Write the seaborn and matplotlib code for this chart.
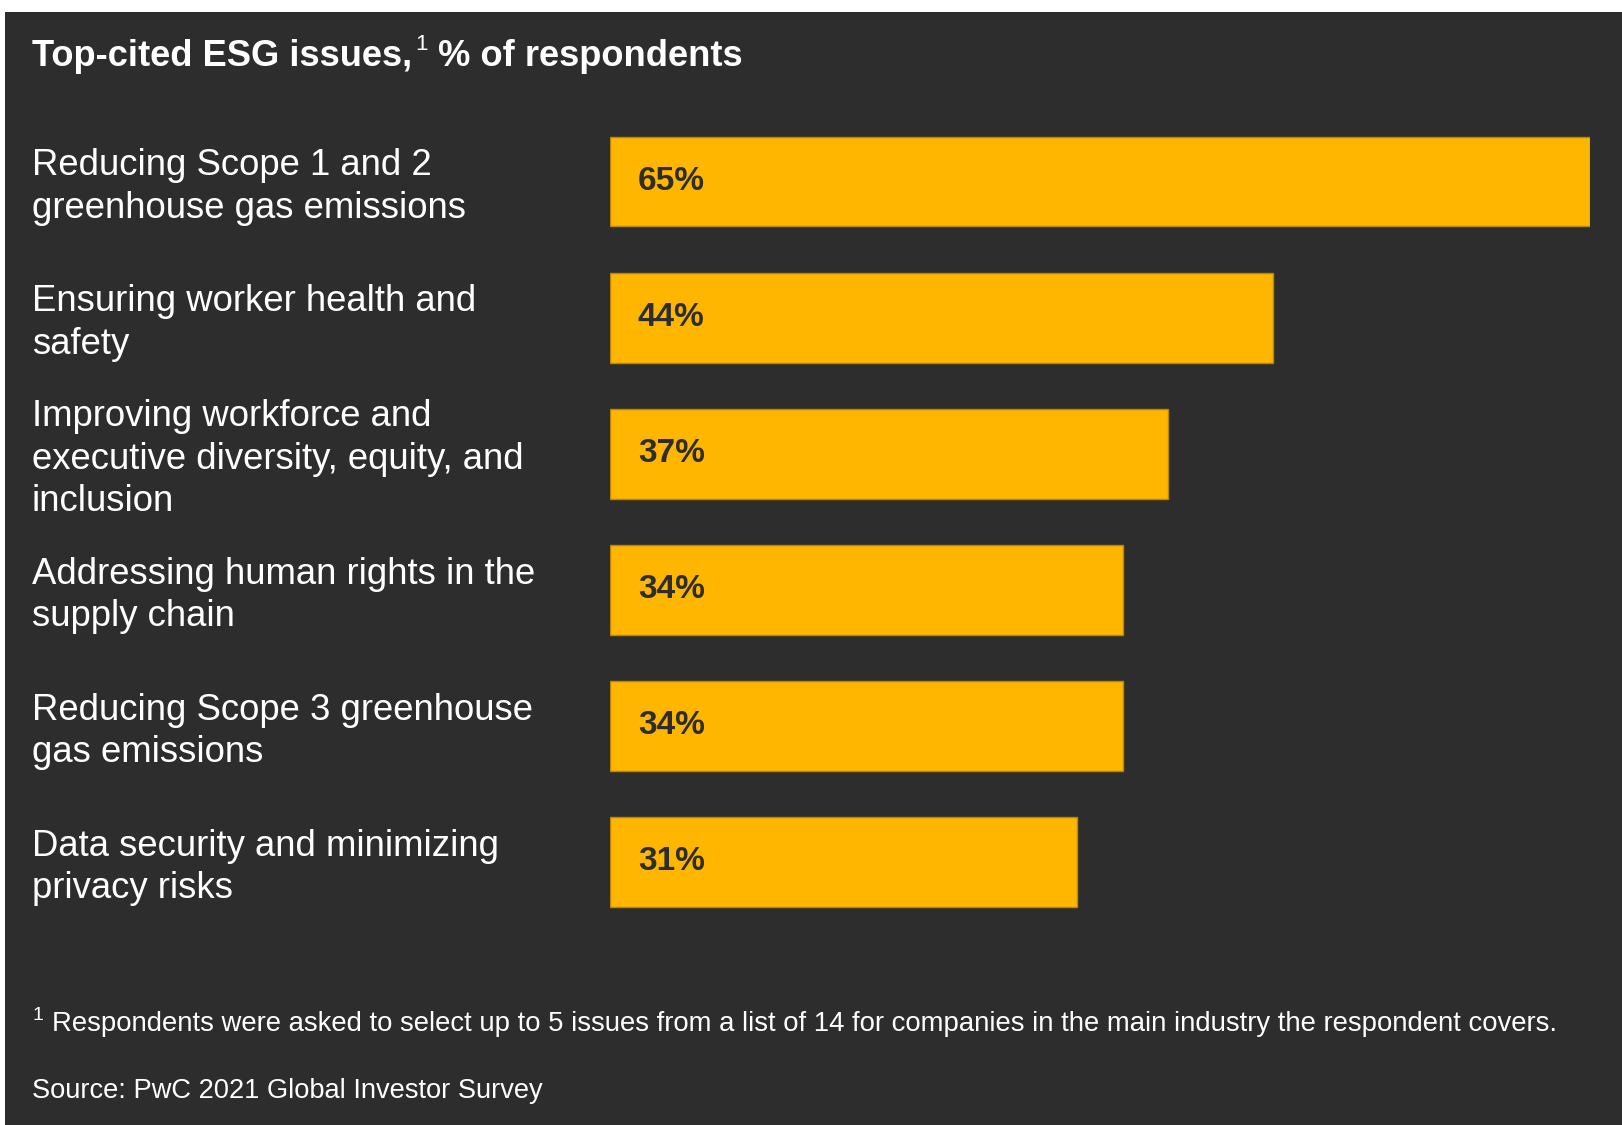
import matplotlib
matplotlib.use("Agg")
import matplotlib.pyplot as plt
import matplotlib.patches as mpatches
from matplotlib.transforms import blended_transform_factory
import seaborn as sns
import pandas as pd

categories = [
    "Reducing Scope 1 and 2\ngreenhouse gas emissions",
    "Ensuring worker health and\nsafety",
    "Improving workforce and\nexecutive diversity, equity, and\ninclusion",
    "Addressing human rights in the\nsupply chain",
    "Reducing Scope 3 greenhouse\ngas emissions",
    "Data security and minimizing\nprivacy risks",
]
values = [65, 44, 37, 34, 34, 31]
value_labels = ["65%", "44%", "37%", "34%", "34%", "31%"]

title_main = "Top-cited ESG issues,"
title_rest = " % of respondents"
footnote = "Respondents were asked to select up to 5 issues from a list of 14 for companies in the main industry the respondent covers."
source = "Source: PwC 2021 Global Investor Survey"

BG = "#2d2d2d"
BAR = "#ffb600"
FONT = ["Liberation Sans", "DejaVu Sans"]

sns.set_theme(style="white")
plt.rcParams["font.family"] = FONT

W, H = 1622, 1125
fig = plt.figure(figsize=(W / 100, H / 100), dpi=100)
fig.patch.set_facecolor("white")
fig.patches.append(mpatches.Rectangle((5 / W, 0), 1 - 5 / W, 1 - 12 / H,
                                      transform=fig.transFigure, facecolor=BG,
                                      edgecolor="none", zorder=-10))

ax = fig.add_axes([610 / W, 1 - 930 / H, 980 / W, (930 - 113.5) / H])
ax.set_zorder(5)
df = pd.DataFrame({"cat": categories, "val": values})
sns.barplot(data=df, x="val", y="cat", orient="h", color=BAR, width=0.66,
            edgecolor="#b8860b", linewidth=1.0, saturation=1, ax=ax)
ax.set_facecolor("none")
ax.set_xlim(0, 65)
ax.set_ylim(5.5, -0.5)
ax.set_xlabel("")
ax.set_ylabel("")
ax.set_xticks([])
ax.set_yticks([])
for s in ax.spines.values():
    s.set_visible(False)

tr = blended_transform_factory(fig.transFigure, ax.transData)
for i, (cat, lab) in enumerate(zip(categories, value_labels)):
    ax.text(32 / W, i + 0.04, cat, transform=tr, ha="left", va="center",
            color="white", fontsize=26.3, linespacing=1.27, clip_on=False)
    ax.text(1.85, i, lab, ha="left", va="center", color=BG,
            fontsize=24, fontweight="bold")

# title
t = fig.text(32 / W, 1 - 56 / H, title_main, ha="left", va="center",
             color="white", fontsize=26.1, fontweight="bold")
fig.canvas.draw()
bb = t.get_window_extent()
t2 = fig.text(bb.x1 / W + 3 / W, 1 - 45 / H, "1", ha="left", va="center",
              color="white", fontsize=16)
fig.canvas.draw()
bb2 = t2.get_window_extent()
fig.text(bb2.x1 / W, 1 - 56 / H, title_rest, ha="left", va="center",
         color="white", fontsize=26.1, fontweight="bold")

# footnote
f1 = fig.text(32 / W, 1 - 1016 / H, "1", ha="left", va="center",
              color="white", fontsize=14)
fig.canvas.draw()
fb = f1.get_window_extent()
fig.text(fb.x1 / W + 9 / W, 1 - 1024 / H, footnote, ha="left", va="center",
         color="white", fontsize=19.85)
fig.text(32 / W, 1 - 1091 / H, source, ha="left", va="center",
         color="white", fontsize=19.6)

fig.savefig("out.png", dpi=100, facecolor=fig.get_facecolor())
